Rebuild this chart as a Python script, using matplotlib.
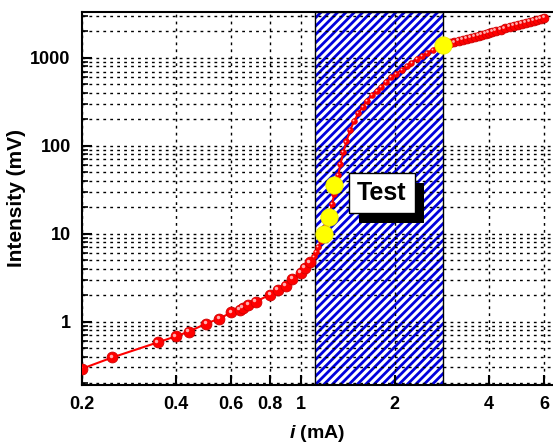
import matplotlib
matplotlib.use('Agg')
import matplotlib.pyplot as plt
import matplotlib.patheffects as pe
from matplotlib import transforms
import numpy as np

# data
i_low = [0.2, 0.25, 0.35, 0.4, 0.44, 0.5, 0.55, 0.6, 0.64, 0.655, 0.68, 0.72,
         0.8, 0.845, 0.895, 0.94, 1.0, 1.03, 1.068]
I_low = [0.29, 0.39, 0.58, 0.68, 0.77, 0.95, 1.08, 1.27, 1.37, 1.44, 1.56, 1.69,
         2.03, 2.31, 2.56, 3.08, 3.6, 4.1, 4.7]

i_mid = [1.10, 1.12, 1.14, 1.16, 1.18, 1.20, 1.22, 1.24, 1.26, 1.28, 1.30, 1.32,
         1.34, 1.37, 1.40, 1.44, 1.48, 1.53, 1.58, 1.63, 1.69, 1.75, 1.81, 1.88,
         1.95, 2.02, 2.10, 2.18, 2.26, 2.35, 2.44, 2.54, 2.64, 2.74, 2.84]
I_mid = [5.5, 6.2, 7.0, 8.2, 9.8, 12, 14.5, 17.5, 22, 28, 36, 47,
         62, 85, 112, 150, 190, 235, 280, 325, 375, 420, 470, 530,
         600, 660, 730, 800, 880, 970, 1050, 1150, 1240, 1310, 1370]

i_hi = [2.9, 3.0, 3.1, 3.2, 3.3, 3.4, 3.5, 3.6, 3.7, 3.8, 3.9, 4.0, 4.1, 4.2,
        4.35, 4.5, 4.65, 4.8, 4.95, 5.1, 5.25, 5.4, 5.55, 5.7, 5.85, 6.0]
I_hi = [1420, 1470, 1510, 1560, 1610, 1650, 1700, 1750, 1790, 1840, 1890, 1930,
        1980, 2030, 2100, 2170, 2240, 2310, 2380, 2450, 2520, 2590, 2660, 2730,
        2800, 2870]

i_test = [1.19, 1.23, 1.28, 2.84]
I_test = [9.8, 15.5, 36, 1420]

band = (1.108, 2.84)
xticks = [0.2, 0.4, 0.6, 0.8, 1, 2, 4, 6]
xticklabels = ['0.2', '0.4', '0.6', '0.8', '1', '2', '4', '6']
yticks = [1, 10, 100, 1000]
yticklabels = ['1', '10', '100', '1000']

plt.rcParams['font.family'] = ['Liberation Sans', 'DejaVu Sans']
plt.rcParams['font.weight'] = 'bold'
plt.rcParams['mathtext.fontset'] = 'custom'
plt.rcParams['mathtext.it'] = 'Liberation Sans:italic:bold'
plt.rcParams['mathtext.rm'] = 'Liberation Sans:bold'
plt.rcParams['hatch.linewidth'] = 2.0

fig = plt.figure(figsize=(5.53, 4.45), dpi=100)
ax = fig.add_axes([0.148, 0.135, 0.852, 0.838])
ax.set_xscale('log')
ax.set_yscale('log')
ax.set_xlim(0.2, 6.4)
ax.set_ylim(0.19, 3330)

# hatched band
ax.axvspan(band[0], band[1], facecolor='white', edgecolor='#0000dd', hatch='////',
           linewidth=0, zorder=1)
ax.axvspan(band[0], band[1], fill=False, edgecolor='black', linewidth=1.0, zorder=1.5)

# grid
dots = (0, (2, 3))
ax.grid(True, which='major', axis='x', color='black', linestyle=dots, linewidth=1.0, zorder=2)
ax.grid(True, which='both', axis='y', color='black', linestyle=dots, linewidth=1.0, zorder=2)
ax.set_axisbelow(False)

# curve
i_all = i_low + i_mid + i_hi
I_all = I_low + I_mid + I_hi
ax.plot(i_all, I_all, color='red', linewidth=1.5, zorder=3)

hl = transforms.offset_copy(ax.transData, fig=fig, x=-1.2, y=1.2, units='points')
hl_small = transforms.offset_copy(ax.transData, fig=fig, x=-0.7, y=0.7, units='points')

ax.plot(i_low, I_low, 'o', color='#ff0000', markersize=7.8, markeredgecolor='#d00000',
        markeredgewidth=0.6, zorder=4)
ax.plot(i_low, I_low, 'o', color='#ffb0b0', markersize=2.5, markeredgewidth=0,
        transform=hl, zorder=4.1)
ax.plot(i_mid, I_mid, 'o', color='#ff0000', markersize=4.2, markeredgecolor='#e00000',
        markeredgewidth=0.4, zorder=4)
ax.plot(i_mid, I_mid, 'o', color='#ffc0c0', markersize=1.3, markeredgewidth=0,
        transform=hl_small, zorder=4.1)
ax.plot(i_hi, I_hi, 'o', color='#ff0000', markersize=6.3, markeredgecolor='#d00000',
        markeredgewidth=0.6, zorder=4)
ax.plot(i_hi, I_hi, 'o', color='#ffb0b0', markersize=2, markeredgewidth=0,
        transform=hl, zorder=4.1)

ax.plot(i_test, I_test, 'o', color='#ffff00', markersize=12.5, markeredgecolor='#e8e800',
        markeredgewidth=0.5, zorder=5)

# label box with drop shadow
t = ax.text(0.637, 0.515, 'Test', transform=ax.transAxes, fontsize=18, fontweight='bold',
            ha='center', va='center', zorder=6,
            bbox=dict(boxstyle='square,pad=0.32', facecolor='white', edgecolor='black',
                      linewidth=1.0))
t.get_bbox_patch().set_path_effects([
    pe.SimplePatchShadow(offset=(7, -7), shadow_rgbFace='black', alpha=1.0),
    pe.Normal()])

# axes styling
ax.set_xticks(xticks)
ax.set_xticklabels(xticklabels)
ax.xaxis.set_minor_locator(matplotlib.ticker.NullLocator())
ax.set_yticks(yticks)
ax.set_yticklabels(yticklabels)
ax.tick_params(which='major', direction='in', length=7, width=1.5, labelsize=13, pad=8)
ax.tick_params(which='minor', direction='in', length=4, width=1.2)
ax.tick_params(axis='x', which='both', top=False)
ax.tick_params(axis='y', which='both', right=False)
for lab in ax.get_xticklabels() + ax.get_yticklabels():
    lab.set_fontweight('bold')

for s in ['left', 'bottom', 'top']:
    ax.spines[s].set_linewidth(1.5)
ax.spines['right'].set_visible(False)

ax.set_xlabel('$i$ (mA)', fontsize=14, fontweight='bold', labelpad=7)
ax.set_ylabel('Intensity (mV)', fontsize=15, fontweight='bold', labelpad=3)

plt.savefig('out.png', dpi=100)
